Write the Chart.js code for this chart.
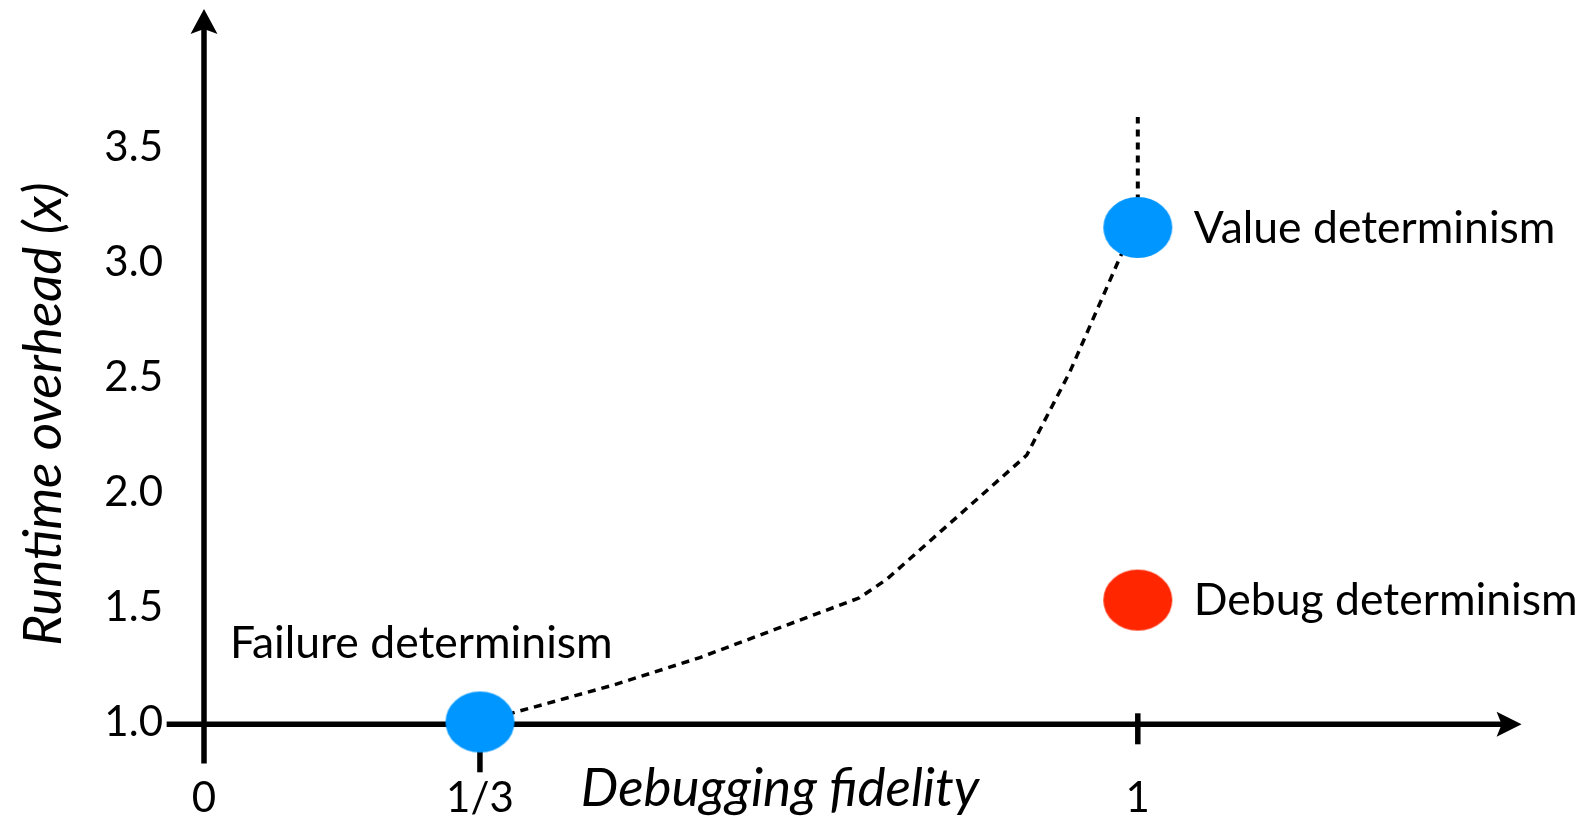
<!DOCTYPE html>
<html>
<head>
<meta charset="utf-8">
<script src="https://cdn.jsdelivr.net/npm/chart.js@4.4.0/dist/chart.umd.min.js"></script>
<style>
  html, body { margin: 0; padding: 0; background: #fff; }
  canvas { display: block; }
</style>
</head>
<body>
<canvas id="chart" width="1578" height="821"></canvas>
<script>
// x is measured along the drawn axis: 0 at the y axis, 1 at the "1" tick
const xTickPos = [0, 0.2955, 1];
const xTickLabels = ["0", "1/3", "1"];
const yTicks = [1.0, 1.5, 2.0, 2.5, 3.0, 3.5];

// dotted trade-off curve
const curveX = [0.2955, 0.438, 0.531, 0.702, 0.731, 0.881, 0.927, 0.982, 1.0];
const curveY = [1.0, 1.16, 1.28, 1.54, 1.62, 2.16, 2.52, 3.03, 3.15];
// dotted line going up past value determinism
const upX = [1.0, 1.0];
const upY = [3.15, 3.63];

const blueLabels = ["Failure determinism", "Value determinism"];
const blueX = [0.2955, 1.0];
const blueY = [1.0, 3.15];
const redLabels = ["Debug determinism"];
const redX = [1.0];
const redY = [1.53];

const xTitle = "Debugging fidelity";
const yTitle = "Runtime overhead (x)";

const BLUE = "#0096FF";
const RED = "#FF2600";
const FONT = "Lato";

function toPoints(xs, ys) {
  return xs.map((v, i) => ({ x: v, y: ys[i] }));
}

// slightly wide dot, like the slide's shapes
function ellipse(color) {
  const c = document.createElement("canvas");
  c.width = 73;
  c.height = 65;
  const g = c.getContext("2d");
  g.fillStyle = color;
  g.beginPath();
  g.ellipse(36.5, 32.5, 34.5, 30.5, 0, 0, Math.PI * 2);
  g.fill();
  return c;
}

function arrowUp(ctx, x, tipY) {
  ctx.beginPath();
  ctx.moveTo(x, tipY);
  ctx.lineTo(x + 13.5, tipY + 25);
  ctx.lineTo(x, tipY + 20);
  ctx.lineTo(x - 13.5, tipY + 25);
  ctx.closePath();
  ctx.fill();
}

function arrowRight(ctx, tipX, y) {
  ctx.beginPath();
  ctx.moveTo(tipX, y);
  ctx.lineTo(tipX - 25, y - 12.5);
  ctx.lineTo(tipX - 20, y);
  ctx.lineTo(tipX - 25, y + 12.5);
  ctx.closePath();
  ctx.fill();
}

const axesPlugin = {
  id: "axes",
  beforeDatasetsDraw(chart) {
    const { ctx, scales: { x, y } } = chart;
    const ax = x.getPixelForValue(0);
    const ay = y.getPixelForValue(0.99);
    ctx.save();
    ctx.strokeStyle = "#000";
    ctx.fillStyle = "#000";
    ctx.lineWidth = 5.5;
    ctx.lineCap = "butt";

    // y axis
    const yTop = y.getPixelForValue(4.1);
    ctx.beginPath();
    ctx.moveTo(ax, y.getPixelForValue(0.82));
    ctx.lineTo(ax, yTop + 18);
    ctx.stroke();
    arrowUp(ctx, ax, yTop);

    // x axis
    const xTip = x.getPixelForValue(1.411);
    ctx.beginPath();
    ctx.moveTo(x.getPixelForValue(-0.04), ay);
    ctx.lineTo(xTip - 18, ay);
    ctx.stroke();
    arrowRight(ctx, xTip, ay);

    // tick marks at 1/3 and 1
    const t1 = x.getPixelForValue(xTickPos[1]);
    ctx.beginPath();
    ctx.moveTo(t1, ay);
    ctx.lineTo(t1, ay + 48);
    ctx.stroke();
    const t2 = x.getPixelForValue(xTickPos[2]);
    ctx.beginPath();
    ctx.moveTo(t2, ay - 11);
    ctx.lineTo(t2, ay + 20);
    ctx.stroke();
    ctx.restore();
  },
  afterDraw(chart) {
    const { ctx, scales: { x, y } } = chart;
    ctx.save();
    ctx.fillStyle = "#000";
    ctx.textBaseline = "alphabetic";
    ctx.font = "44.5px " + FONT;

    // point labels
    ctx.textAlign = "left";
    ctx.fillText(blueLabels[0], x.getPixelForValue(blueX[0]) - 250, y.getPixelForValue(blueY[0]) - 64);
    ctx.fillText(blueLabels[1], x.getPixelForValue(blueX[1]) + 56, y.getPixelForValue(blueY[1]) + 15);
    ctx.fillText(redLabels[0], x.getPixelForValue(redX[0]) + 56, y.getPixelForValue(redY[0]) + 15);

    // axis titles
    ctx.font = "italic 53px " + FONT;
    ctx.textAlign = "center";
    ctx.fillText(xTitle, 780, 806);
    ctx.translate(61, 414);
    ctx.rotate(-Math.PI / 2);
    ctx.fillText(yTitle, 0, 0);
    ctx.restore();
  }
};

new Chart(document.getElementById("chart"), {
  type: "scatter",
  data: {
    datasets: [
      {
        label: "blue",
        data: toPoints(blueX, blueY),
        pointStyle: ellipse(BLUE),
        pointRadius: 1,
        pointHoverRadius: 1,
        pointBorderWidth: 0,
        order: 1
      },
      {
        label: "red",
        data: toPoints(redX, redY),
        pointStyle: ellipse(RED),
        pointRadius: 1,
        pointHoverRadius: 1,
        pointBorderWidth: 0,
        order: 1
      },
      {
        type: "line",
        label: "curve",
        data: toPoints(curveX, curveY),
        borderColor: "#000",
        borderWidth: 3.5,
        borderDash: [8, 6],
        pointRadius: 0,
        tension: 0,
        fill: false,
        order: 2
      },
      {
        type: "line",
        label: "up",
        data: toPoints(upX, upY),
        borderColor: "#000",
        borderWidth: 4,
        borderDash: [7, 6],
        pointRadius: 0,
        fill: false,
        order: 2
      }
    ]
  },
  options: {
    responsive: false,
    animation: false,
    devicePixelRatio: 1,
    layout: { padding: { left: 0, right: 48, top: 4.4, bottom: 0 } },
    plugins: {
      legend: { display: false },
      tooltip: { enabled: false }
    },
    scales: {
      x: {
        type: "linear",
        min: 0,
        max: 1.42,
        grid: { display: false, drawTicks: false },
        border: { display: false },
        afterBuildTicks: (s) => { s.ticks = xTickPos.map((v) => ({ value: v })); },
        afterFit: (s) => { s.height = 53; s.paddingLeft = 0; s.paddingRight = 0; },
        ticks: {
          padding: 5,
          color: "#000",
          autoSkip: false,
          maxRotation: 0,
          font: { family: FONT, size: 42 },
          callback: (v, i) => xTickLabels[i]
        }
      },
      y: {
        type: "linear",
        min: 0.8,
        max: 4.12,
        grid: { display: false, drawTicks: false },
        border: { display: false },
        afterBuildTicks: (s) => { s.ticks = yTicks.map((v) => ({ value: v })); },
        afterFit: (s) => { s.width = 204; s.paddingTop = 0; s.paddingBottom = 0; },
        ticks: {
          padding: 41,
          color: "#000",
          autoSkip: false,
          font: { family: FONT, size: 42 },
          callback: (v) => v.toFixed(1)
        }
      }
    }
  },
  plugins: [axesPlugin]
});
</script>
</body>
</html>
